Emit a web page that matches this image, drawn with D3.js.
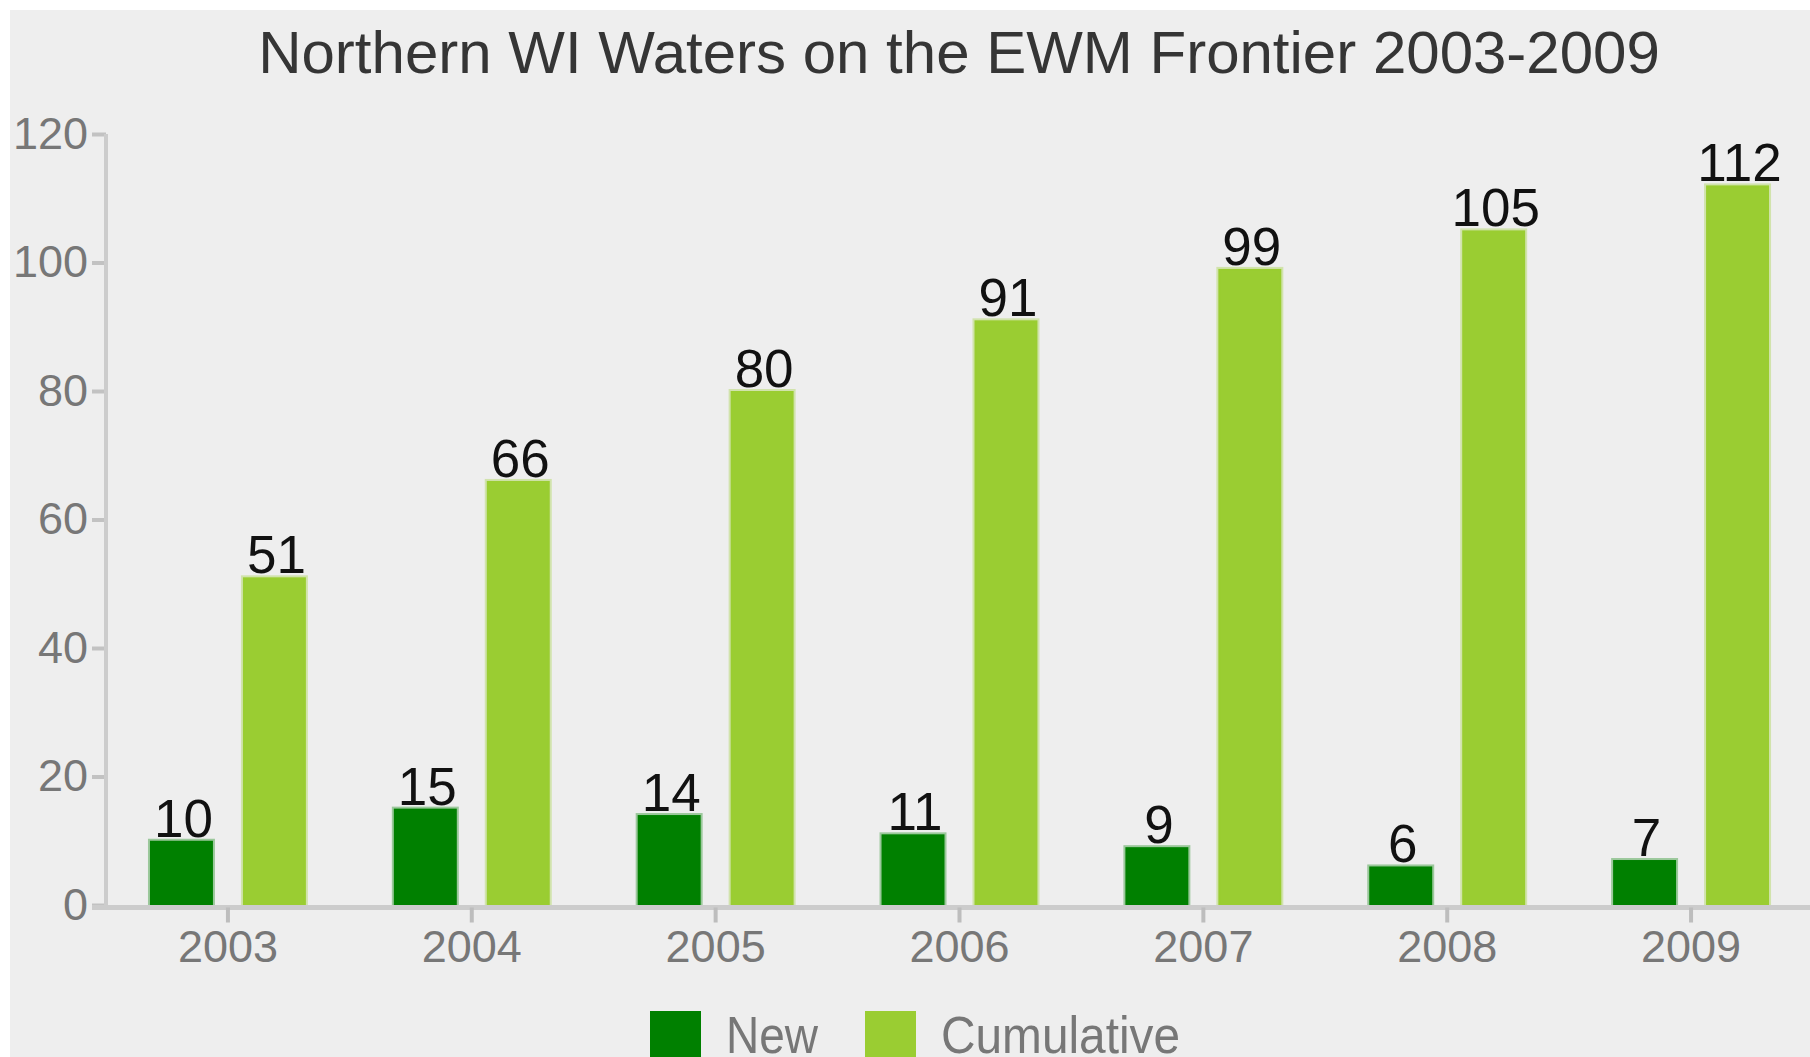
<!DOCTYPE html>
<html>
<head>
<meta charset="utf-8">
<script src="https://cdn.jsdelivr.net/npm/d3@7"></script>
<style>
  html, body { margin: 0; padding: 0; background: #ffffff; }
  svg { display: block; }
  text { font-family: "Liberation Sans", Arial, sans-serif; }
</style>
</head>
<body>
<script>
// Chart data
const years = ["2003", "2004", "2005", "2006", "2007", "2008", "2009"];
const seriesNames = ["New", "Cumulative"];
const newWaters = [10, 15, 14, 11, 9, 6, 7];
const cumulativeWaters = [51, 66, 80, 91, 99, 105, 112];
const yTicks = [0, 20, 40, 60, 80, 100, 120];
const seriesColors = ["#008000", "#9acd32"];
const titleText = "Northern WI Waters on the EWM Frontier 2003-2009";

const W = 1810, H = 1057;
const plot = { left: 106, right: 1813, top: 134, bottom: 905 };

const svg = d3.select("body").append("svg")
  .attr("width", W).attr("height", H);

// panel background
svg.append("rect")
  .attr("x", 10).attr("y", 10)
  .attr("width", W - 10).attr("height", H - 10)
  .attr("fill", "#eeeeee");

const x0 = d3.scaleBand().domain(years).range([plot.left, plot.right]);
const x1 = d3.scaleBand().domain(seriesNames)
  .range([0, x0.bandwidth()])
  .paddingInner(0.3226).paddingOuter(0.473);
const y = d3.scaleLinear().domain([0, 120]).range([plot.bottom, plot.top]);
const color = d3.scaleOrdinal().domain(seriesNames).range(seriesColors);

const rows = years.map((yr, i) => ({
  year: yr,
  values: [
    { key: "New", value: newWaters[i] },
    { key: "Cumulative", value: cumulativeWaters[i] }
  ]
}));

// title
svg.append("text")
  .attr("x", 959).attr("y", 73)
  .attr("text-anchor", "middle")
  .attr("font-size", 60)
  .attr("fill", "#353535")
  .text(titleText);

// bars
const groups = svg.append("g").selectAll("g")
  .data(rows).join("g")
  .attr("transform", d => `translate(${x0(d.year)},0)`);

groups.selectAll("rect")
  .data(d => d.values).join("rect")
  .attr("x", d => x1(d.key))
  .attr("y", d => y(d.value))
  .attr("width", x1.bandwidth())
  .attr("height", d => y(0) - y(d.value))
  .attr("fill", d => color(d.key))
  .attr("stroke", d => color(d.key))
  .attr("stroke-width", 4)
  .attr("stroke-opacity", 0.35);

// value labels
groups.selectAll("text")
  .data(d => d.values).join("text")
  .attr("x", d => x1(d.key) + x1.bandwidth() / 2 + 2)
  .attr("y", d => y(d.value) - 4)
  .attr("text-anchor", "middle")
  .attr("font-size", 53)
  .attr("fill", "#111111")
  .text(d => d.value);

// y axis
const yAxis = svg.append("g")
  .attr("transform", `translate(${plot.left},0)`)
  .call(d3.axisLeft(y).tickValues(yTicks).tickSize(14).tickPadding(4));
yAxis.select(".domain").remove();
yAxis.selectAll(".tick line").attr("stroke", "#c2c2c2").attr("stroke-width", 4);
yAxis.selectAll(".tick text")
  .attr("font-size", 45).attr("fill", "#777777")
  .attr("font-family", "'Liberation Sans', Arial, sans-serif");
yAxis.append("line")
  .attr("x1", 0).attr("x2", 0)
  .attr("y1", plot.top).attr("y2", plot.bottom + 5)
  .attr("stroke", "#cccccc").attr("stroke-width", 4);

// x axis
const xAxis = svg.append("g")
  .attr("transform", `translate(0,${plot.bottom + 2.5})`)
  .call(d3.axisBottom(x0).tickSize(15).tickPadding(8));
xAxis.select(".domain").remove();
xAxis.insert("line", ":first-child")
  .attr("x1", plot.left - 14).attr("x2", W)
  .attr("y1", 0).attr("y2", 0)
  .attr("stroke", "#cccccc").attr("stroke-width", 5);
xAxis.selectAll(".tick line").attr("stroke", "#bdbdbd").attr("stroke-width", 4);
xAxis.selectAll(".tick text")
  .attr("font-size", 45).attr("fill", "#777777")
  .attr("font-family", "'Liberation Sans', Arial, sans-serif");

// legend
const legendItems = [
  { key: "New", sx: 650, tx: 726, tw: 92 },
  { key: "Cumulative", sx: 865, tx: 941, tw: 239 }
];
const legend = svg.append("g");
legend.selectAll("rect").data(legendItems).join("rect")
  .attr("x", d => d.sx).attr("y", 1011)
  .attr("width", 51).attr("height", 51)
  .attr("fill", d => color(d.key));
legend.selectAll("text").data(legendItems).join("text")
  .attr("x", d => d.tx).attr("y", 1053)
  .attr("font-size", 52)
  .attr("textLength", d => d.tw)
  .attr("lengthAdjust", "spacingAndGlyphs")
  .attr("fill", "#777777")
  .text(d => d.key);
</script>
</body>
</html>
